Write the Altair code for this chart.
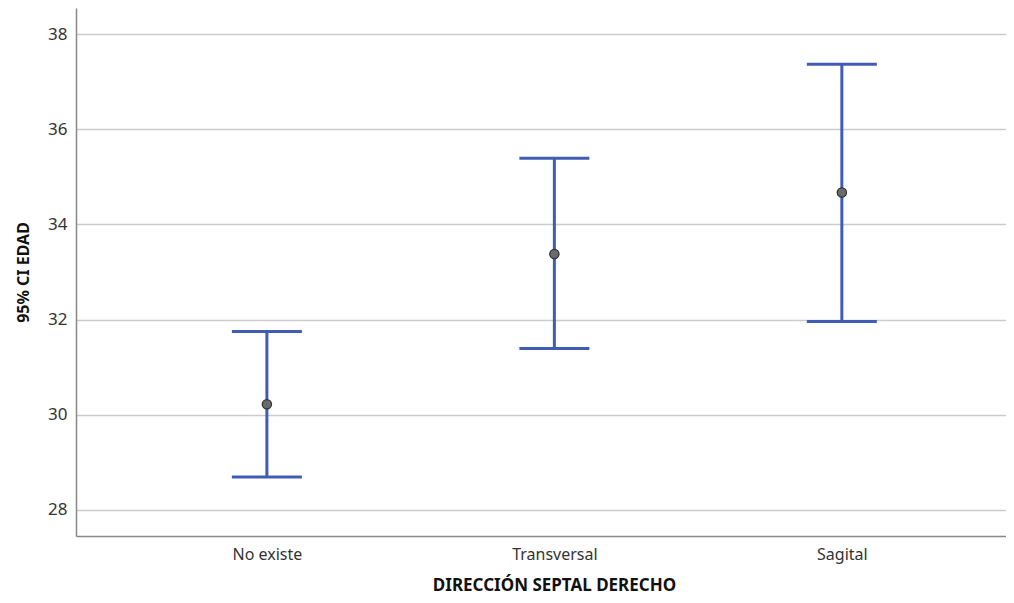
import altair as alt
import pandas as pd

categories = ["No existe", "Transversal", "Sagital"]
means = [30.22, 33.38, 34.67]
lowers = [28.69, 31.39, 31.96]
uppers = [31.75, 35.39, 37.37]

df = pd.DataFrame({
    "idx": list(range(len(categories))),
    "cat": categories,
    "mean": means,
    "lo": lowers,
    "hi": uppers,
})

label_expr = "[" + ",".join(f"'{c}'" for c in categories) + "][datum.value]"

FONT = "Noto Sans"
BLUE = "#3F5DB4"

x = alt.X("idx:Q",
          scale=alt.Scale(domain=[-0.664, 2.571], nice=False, zero=False),
          axis=alt.Axis(values=[0, 1, 2], labelExpr=label_expr, grid=False, ticks=False,
                        title="DIRECCIÓN SEPTAL DERECHO", labelFontSize=16,
                        labelColor="#333333", labelPadding=10, titlePadding=15,
                        titleFontSize=17, titleFontWeight="bold", titleColor="#111111",
                        titleX=478,
                        domainColor="#888888", domainWidth=1.5, labelFont=FONT, titleFont=FONT))
y_axis = alt.Axis(values=[28, 30, 32, 34, 36, 38], grid=True, gridColor="#CCCCCC", gridWidth=1.5,
                  ticks=False, title="95% CI EDAD", labelFontSize=17, labelColor="#333333",
                  labelPadding=9, titlePadding=16, titleFontSize=16, titleFontWeight="bold",
                  titleColor="#111111", domainColor="#888888", domainWidth=1.5,
                  labelFont=FONT, titleFont=FONT)
yscale = alt.Scale(domain=[27.45, 38.55], nice=False, zero=False)

base = alt.Chart(df)

rule = base.mark_rule(color=BLUE, strokeWidth=3).encode(
    x=x,
    y=alt.Y("lo:Q", scale=yscale, axis=y_axis),
    y2="hi:Q",
)
cap_lo = base.mark_tick(color=BLUE, size=70, thickness=3, opacity=1, orient="horizontal").encode(
    x="idx:Q", y="lo:Q")
cap_hi = base.mark_tick(color=BLUE, size=70, thickness=3, opacity=1, orient="horizontal").encode(
    x="idx:Q", y="hi:Q")
pts = base.mark_point(filled=True, size=85, color="#6B6B6B", stroke="#333333",
                      strokeWidth=1.3, opacity=1).encode(x="idx:Q", y="mean:Q")

chart = (rule + cap_lo + cap_hi + pts).properties(
    width=930, height=528,
    autosize=alt.AutoSizeParams(type="none"),
    padding={"left": 68, "top": 0, "right": 0, "bottom": 59},
    background="white",
).configure_view(stroke=None)

chart.save("out.html", embed_options={"renderer": "svg", "actions": False})
